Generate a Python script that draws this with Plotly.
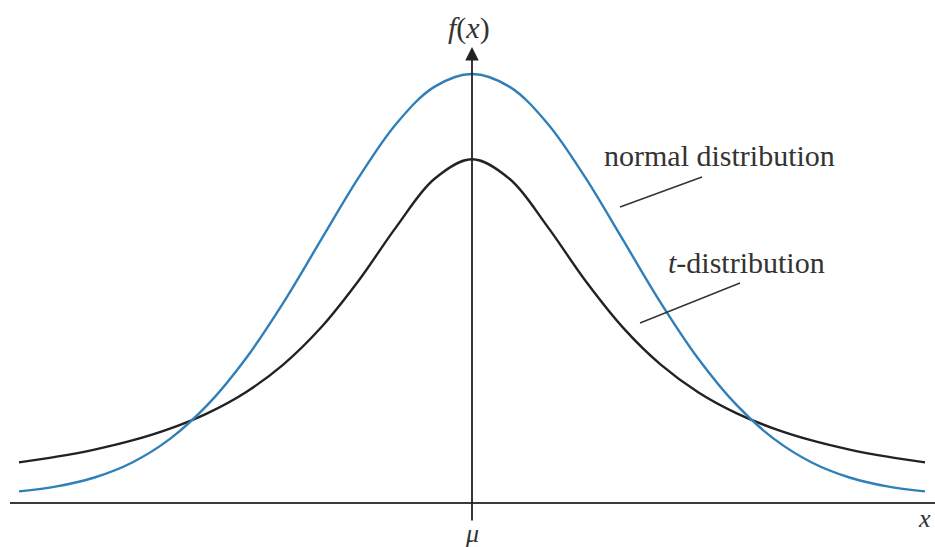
import plotly.graph_objects as go

# Standardised abscissa (units of sigma around the mean mu)
x_vals = [-3.0, -2.75, -2.5, -2.25, -2.0, -1.75, -1.5, -1.25, -1.0, -0.75, -0.5, -0.25,
          0.0, 0.25, 0.5, 0.75, 1.0, 1.25, 1.5, 1.75, 2.0, 2.25, 2.5, 2.75, 3.0]

# Density of the normal distribution (centre to right tail)
normal_half = [0.3989, 0.3867, 0.3521, 0.3011, 0.2420, 0.1826, 0.1295,
               0.0863, 0.0540, 0.0317, 0.0175, 0.0091, 0.0044]
# Density of the t-distribution (lower peak, heavier tails)
t_half = [0.3183, 0.2996, 0.2546, 0.2037, 0.1592, 0.1242, 0.0979,
          0.0784, 0.0637, 0.0525, 0.0439, 0.0372, 0.0318]

normal_pdf = normal_half[:0:-1] + normal_half
t_pdf = t_half[:0:-1] + t_half

W, H = 935, 547
X_RANGE = [-3.1258, 3.0662]
Y_RANGE = [-0.0482, 0.4688]
AXIS_Y = -0.0066          # horizontal axis drawn just under the zero level


def px(xp):
    return xp / W


def py(yp):
    return 1 - yp / H


BLUE = "#2f80b8"
DARK = "#222222"
TEXT = "#333333"
FONT = "Liberation Serif, Times New Roman, serif"

fig = go.Figure()
fig.add_trace(go.Scatter(x=x_vals, y=t_pdf, mode="lines",
                         line=dict(color=DARK, width=2.4, shape="spline", smoothing=1.0),
                         hoverinfo="skip", showlegend=False))
fig.add_trace(go.Scatter(x=x_vals, y=normal_pdf, mode="lines",
                         line=dict(color=BLUE, width=2.4, shape="spline", smoothing=1.0),
                         hoverinfo="skip", showlegend=False))

shapes = [
    # x axis
    dict(type="line", xref="x", yref="y", x0=-3.06, x1=3.2, y0=AXIS_Y, y1=AXIS_Y,
         line=dict(color="#3a3a3a", width=2)),
    # leader lines for the labels
    dict(type="line", xref="paper", yref="paper", x0=px(620), y0=py(207), x1=px(702), y1=py(177),
         line=dict(color=TEXT, width=1.4)),
    dict(type="line", xref="paper", yref="paper", x0=px(640), y0=py(323), x1=px(740), y1=py(283),
         line=dict(color=TEXT, width=1.4)),
]

annotations = [
    # vertical f(x) axis with arrow
    dict(x=0, y=0.4244, ax=0, ay=-0.0246, xref="x", yref="y", axref="x", ayref="y",
         showarrow=True, arrowhead=2, arrowsize=1.5, arrowwidth=1.8, arrowcolor=DARK, text=""),
    dict(x=px(469), y=py(28), xref="paper", yref="paper", showarrow=False,
         text="<i>f</i>(<i>x</i>)", font=dict(family=FONT, size=30, color=TEXT),
         xanchor="center", yanchor="middle"),
    dict(x=px(472), y=py(533), xref="paper", yref="paper", showarrow=False,
         text="<i>μ</i>", font=dict(family=FONT, size=26, color=TEXT),
         xanchor="center", yanchor="middle"),
    dict(x=px(933), y=py(518), xref="paper", yref="paper", showarrow=False,
         text="<i>x</i>", font=dict(family=FONT, size=26, color=TEXT),
         xanchor="right", yanchor="middle"),
    dict(x=px(602), y=py(156), xref="paper", yref="paper", showarrow=False,
         text="normal distribution", font=dict(family=FONT, size=30, color=TEXT),
         xanchor="left", yanchor="middle"),
    dict(x=px(666), y=py(263), xref="paper", yref="paper", showarrow=False,
         text="<i>t</i>-distribution", font=dict(family=FONT, size=30, color=TEXT),
         xanchor="left", yanchor="middle"),
]

fig.update_layout(
    width=W, height=H,
    margin=dict(l=0, r=0, t=0, b=0),
    paper_bgcolor="white", plot_bgcolor="white",
    xaxis=dict(range=X_RANGE, visible=False, fixedrange=True),
    yaxis=dict(range=Y_RANGE, visible=False, fixedrange=True),
    shapes=shapes, annotations=annotations,
)

fig.write_html("out.html")
